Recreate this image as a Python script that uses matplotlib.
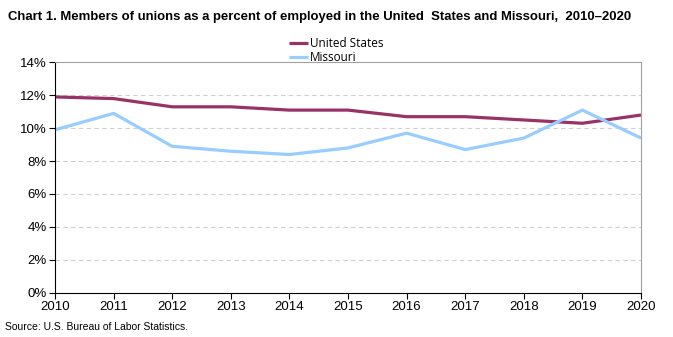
import matplotlib
matplotlib.use("Agg")
import matplotlib.pyplot as plt
from matplotlib.ticker import FuncFormatter

years = [2010, 2011, 2012, 2013, 2014, 2015, 2016, 2017, 2018, 2019, 2020]
united_states = [11.9, 11.8, 11.3, 11.3, 11.1, 11.1, 10.7, 10.7, 10.5, 10.3, 10.8]
missouri = [9.9, 10.9, 8.9, 8.6, 8.4, 8.8, 9.7, 8.7, 9.4, 11.1, 9.4]
y_ticks = [0, 2, 4, 6, 8, 10, 12, 14]

narrow = ["Liberation Sans Narrow", "Liberation Sans", "DejaVu Sans"]

fig = plt.figure(figsize=(6.73, 3.37), dpi=100)
ax = fig.add_axes([55 / 673, 1 - 292.7 / 337, (641 - 55) / 673, (292.7 - 62.4) / 337])

ax.plot(years, united_states, color="#993366", lw=2.3, label="United States", solid_capstyle="butt")
ax.plot(years, missouri, color="#99ccff", lw=2.3, label="Missouri", solid_capstyle="butt")

ax.set_xlim(years[0], years[-1])
ax.set_ylim(0, 14)
ax.set_xticks(years)
ax.set_yticks(y_ticks)
ax.yaxis.set_major_formatter(FuncFormatter(lambda v, p: f"{v:.0f}%"))

for y in y_ticks[1:-1]:
    ax.axhline(y, color="#d0d0d0", lw=0.8, ls=(0, (4, 3)), zorder=0)

for s in ["top", "right"]:
    ax.spines[s].set_color("#a0a0a0")
    ax.spines[s].set_linewidth(0.8)
for s in ["left", "bottom"]:
    ax.spines[s].set_color("black")
    ax.spines[s].set_linewidth(0.8)

ax.tick_params(axis="both", length=4, width=0.8, color="black", pad=2)
for lab in ax.get_xticklabels() + ax.get_yticklabels():
    lab.set_family(narrow)
    lab.set_fontsize(9.5)

leg = ax.legend(loc="lower center", bbox_to_anchor=(0.48, 0.972), frameon=False,
                ncol=1, handlelength=1.6, handletextpad=0.1, labelspacing=0.1,
                borderaxespad=0, prop={"family": ["Open Sans", "DejaVu Sans"], "size": 8.5})

fig.text(8 / 673, 1 - 17 / 337, "Chart 1. Members of unions as a percent of employed in the United  States and Missouri,  2010\u20132020",
         fontsize=9.45, fontweight="bold", family=narrow, va="center", ha="left")
fig.text(5 / 673, 1 - 327 / 337, "Source: U.S. Bureau of Labor Statistics.",
         fontsize=7.5, family=narrow, va="center", ha="left")

fig.savefig("out.png", dpi=100)
